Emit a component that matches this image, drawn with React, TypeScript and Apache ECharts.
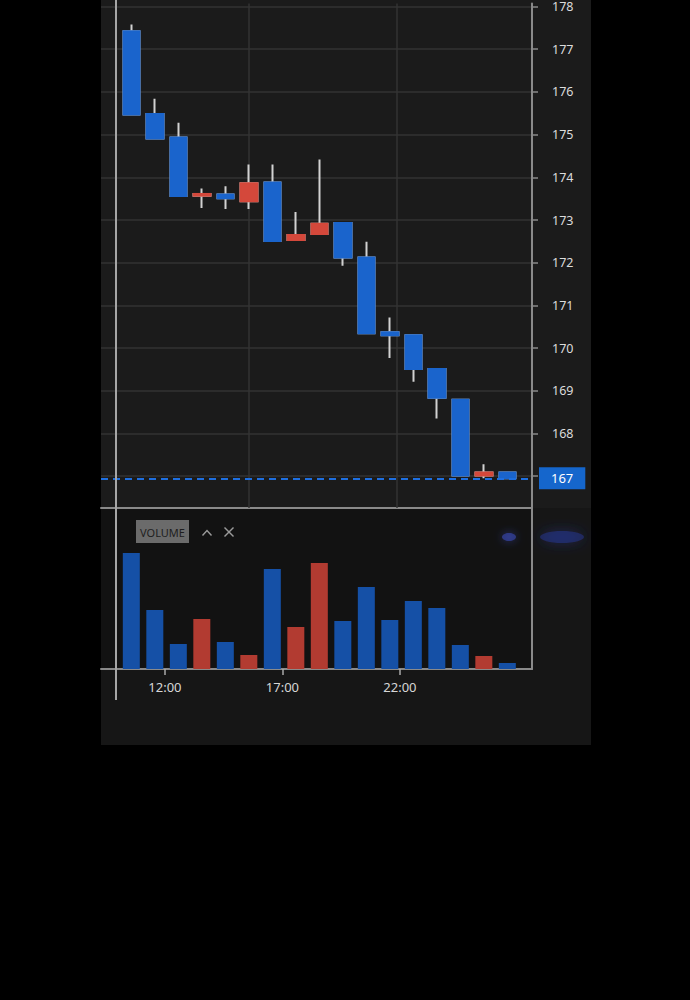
import React, { useEffect, useRef } from 'react';
import * as echarts from 'echarts';

// hours since 00:00 of the first day (values > 24 belong to the next day)
const hours = [10.57, 11.57, 12.57, 13.57, 14.57, 15.57, 16.57, 17.57, 18.57, 19.57, 20.57, 21.57, 22.57, 23.57, 24.57, 25.57, 26.57];
const opens = [177.42, 175.48, 174.93, 173.57, 173.6, 173.44, 173.88, 172.53, 172.67, 172.93, 172.12, 170.37, 170.3, 169.51, 168.79, 167.02, 167.09];
const closes = [175.47, 174.91, 173.56, 173.61, 173.51, 173.86, 172.51, 172.65, 172.91, 172.12, 170.35, 170.3, 169.51, 168.84, 167.02, 167.09, 166.95];
const lows = [175.47, 174.91, 173.56, 173.28, 173.26, 173.26, 172.51, 172.53, 172.67, 171.93, 170.35, 169.77, 169.21, 168.35, 167.02, 166.95, 166.95];
const highs = [177.58, 175.84, 175.28, 173.74, 173.79, 174.3, 174.3, 173.19, 174.42, 172.93, 172.49, 170.72, 170.3, 169.51, 168.79, 167.28, 167.09];
const volumes = [11600, 5900, 2500, 5000, 2700, 1400, 10000, 4200, 10600, 4800, 8200, 4900, 6800, 6100, 2400, 1300, 600];

const priceTicks = [167, 168, 169, 170, 171, 172, 173, 174, 175, 176, 177, 178];
// 167 is shown by the current-price box instead of a plain axis label
const priceLabels = [168, 169, 170, 171, 172, 173, 174, 175, 176, 177, 178];
const timeTicks = [12, 17, 22];
const gridHours = [15.55, 21.85];
const lastPrice = 166.95;
const lastPriceLabel = '167';

const UP = '#d4483b';
const DOWN = '#1a64cc';
const VOL_UP = '#b23b31';
const VOL_DOWN = '#1550a6';
const WICK = '#d2d2d2';

export default function App() {
  const ref = useRef<HTMLDivElement>(null);

  useEffect(() => {
    if (!ref.current) return;
    const chart = echarts.init(ref.current, undefined, { renderer: 'svg' });

    const wickData = hours.map((h, i) => [h, opens[i], closes[i], lows[i], highs[i]]);
    const bodyData = hours.map((h, i) => [
      h,
      opens[i],
      closes[i],
      Math.min(opens[i], closes[i]),
      Math.max(opens[i], closes[i]),
    ]);
    const volData = hours.map((h, i) => ({
      value: [h, volumes[i]],
      itemStyle: { color: closes[i] > opens[i] ? VOL_UP : VOL_DOWN },
    }));

    const fmtHour = (v: number) => {
      const h = Math.round(v) % 24;
      return (h < 10 ? '0' : '') + h + ':00';
    };

    const font = 'Noto Sans';
    const xMin = 9.28;
    const xMax = 27.62;

    chart.setOption({
      animation: false,
      backgroundColor: 'transparent',
      grid: [
        { left: 101, top: 0, width: 431, height: 508 },
        { left: 101, top: 508, width: 431, height: 161 },
      ],
      xAxis: [
        {
          type: 'value',
          gridIndex: 0,
          min: xMin,
          max: xMax,
          axisLine: { show: true, lineStyle: { color: '#8a8a8a', width: 2 } },
          axisTick: { show: false },
          axisLabel: { show: false },
          splitLine: { show: false },
        },
        {
          type: 'value',
          gridIndex: 1,
          position: 'bottom',
          min: xMin,
          max: xMax,
          axisLine: { show: true, lineStyle: { color: '#8a8a8a', width: 2 } },
          axisTick: {
            show: true,
            customValues: timeTicks,
            length: 6,
            lineStyle: { color: '#aaaaaa', width: 1.5 },
          },
          axisLabel: {
            show: true,
            customValues: timeTicks,
            formatter: fmtHour,
            color: '#d6d6d6',
            fontSize: 13,
            fontFamily: font,
            margin: 11,
          },
          splitLine: { show: false },
        },
      ],
      yAxis: [
        {
          type: 'value',
          gridIndex: 0,
          position: 'right',
          min: 166.256,
          max: 178.07,
          splitNumber: 12,
          axisLine: { show: true, lineStyle: { color: '#8a8a8a', width: 2 } },
          axisTick: {
            show: true,
            customValues: priceTicks,
            length: 6,
            lineStyle: { color: '#8a8a8a', width: 1.5 },
          },
          axisLabel: {
            show: true,
            customValues: priceLabels,
            formatter: (v: number) => String(Math.round(v)),
            color: '#dcdcdc',
            fontSize: 12.5,
            fontFamily: font,
            margin: 20,
          },
          splitLine: { show: true, lineStyle: { color: '#333333', width: 1.5 } },
        },
        {
          type: 'value',
          gridIndex: 1,
          position: 'right',
          min: 0,
          max: 16100,
          axisLine: { show: true, lineStyle: { color: '#8a8a8a', width: 2 } },
          axisTick: { show: false },
          axisLabel: { show: false },
          splitLine: { show: false },
        },
      ],
      series: [
        {
          name: 'wick',
          type: 'candlestick',
          xAxisIndex: 0,
          yAxisIndex: 0,
          barWidth: 17,
          z: 2,
          data: wickData,
          itemStyle: {
            color: 'transparent',
            color0: 'transparent',
            borderColor: WICK,
            borderColor0: WICK,
            borderWidth: 2,
          },
          markLine: {
            silent: true,
            symbol: 'none',
            z: 1,
            label: { show: false },
            lineStyle: { color: '#333333', width: 1.5, type: 'solid' },
            data: gridHours.map((h) => ({ xAxis: h })),
          },
        },
        {
          name: 'body',
          type: 'candlestick',
          xAxisIndex: 0,
          yAxisIndex: 0,
          barWidth: 17,
          z: 3,
          data: bodyData,
          itemStyle: {
            color: UP,
            color0: DOWN,
            borderColor: UP,
            borderColor0: DOWN,
            borderWidth: 2,
          },
          markLine: {
            silent: true,
            symbol: 'none',
            data: [
              {
                yAxis: lastPrice,
                lineStyle: { color: '#1e6fe0', width: 2, type: [7, 5] },
                label: {
                  show: true,
                  position: 'end',
                  distance: 7,
                  formatter: lastPriceLabel,
                  color: '#ffffff',
                  fontSize: 13,
                  fontFamily: font,
                  backgroundColor: '#1566cc',
                  padding: [5, 12, 4, 12],
                },
              },
            ],
          },
        },
        {
          name: 'VOLUME',
          type: 'bar',
          xAxisIndex: 1,
          yAxisIndex: 1,
          barWidth: 17,
          data: volData,
        },
      ],
      graphic: [
        {
          type: 'line',
          z: 10,
          shape: { x1: 116, y1: 0, x2: 116, y2: 700 },
          style: { stroke: '#a6a6a6', lineWidth: 2 },
        },
        {
          type: 'rect',
          z: 10,
          shape: { x: 136, y: 520, width: 53, height: 23 },
          style: { fill: '#6b6b6b' },
        },
        {
          type: 'text',
          z: 11,
          x: 162.5,
          y: 532,
          style: {
            text: 'VOLUME',
            fill: '#1e1e1e',
            font: '11px "Noto Sans"',
            align: 'center',
            verticalAlign: 'middle',
          },
        },
        {
          type: 'polyline',
          z: 10,
          shape: { points: [[202.5, 535.5], [207, 530.5], [211.5, 535.5]] },
          style: { stroke: '#9a9a9a', lineWidth: 1.4, fill: 'none' },
        },
        {
          type: 'line',
          z: 10,
          shape: { x1: 224.5, y1: 527.5, x2: 233.5, y2: 536.5 },
          style: { stroke: '#9a9a9a', lineWidth: 1.4 },
        },
        {
          type: 'line',
          z: 10,
          shape: { x1: 224.5, y1: 536.5, x2: 233.5, y2: 527.5 },
          style: { stroke: '#9a9a9a', lineWidth: 1.4 },
        },
        {
          type: 'ellipse',
          z: 10,
          shape: { cx: 509, cy: 537, rx: 7, ry: 4 },
          style: { fill: 'rgba(70,90,230,0.45)', shadowBlur: 10, shadowColor: 'rgba(70,90,230,0.9)' },
        },
        {
          type: 'ellipse',
          z: 10,
          shape: { cx: 562, cy: 537, rx: 22, ry: 6 },
          style: { fill: 'rgba(50,70,200,0.35)', shadowBlur: 14, shadowColor: 'rgba(50,70,200,0.9)' },
        },
      ],
    });

    return () => chart.dispose();
  }, []);

  return (
    <div style={{ position: 'fixed', left: 0, top: 0, width: 690, height: 1000, background: '#000' }}>
      <div style={{ position: 'absolute', left: 101, top: 0, width: 490, height: 745, background: '#161616' }} />
      <div style={{ position: 'absolute', left: 101, top: 0, width: 490, height: 508, background: '#1b1b1b' }} />
      <div style={{ position: 'absolute', left: 101, top: 508, width: 431, height: 161, background: '#121212' }} />
      <div ref={ref} style={{ position: 'absolute', left: 0, top: 0, width: 690, height: 1000 }} />
    </div>
  );
}
